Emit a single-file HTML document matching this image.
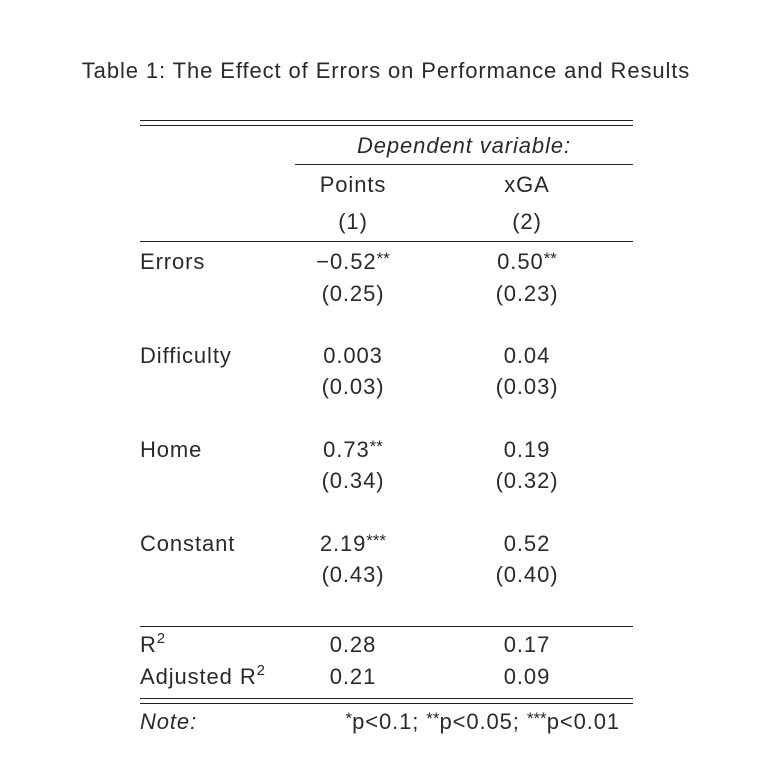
<!DOCTYPE html>
<html><head><meta charset="utf-8"><style>
body{margin:0;background:#fff;}
#t{position:relative;width:770px;height:781px;font-family:"Liberation Sans",sans-serif;font-size:22px;color:#2a2a2a;letter-spacing:0.9px;}
.x{position:absolute;line-height:26px;white-space:nowrap;}
.c{transform:translateX(-50%);}
.r{position:absolute;height:1px;background:#222;}
sup{font-size:17px;vertical-align:5px;line-height:0;letter-spacing:0;}
sup.s{font-size:15px;vertical-align:9px;}
</style></head><body>
<div id="t">
<div class="x c" style="left:386px;top:58px">Table 1: The Effect of Errors on Performance and Results</div>
<div class="r" style="left:140px;width:493px;top:120px"></div>
<div class="r" style="left:140px;width:493px;top:125px"></div>
<div class="x c" style="left:464px;top:133px;font-style:italic">Dependent variable:</div>
<div class="r" style="left:295px;width:338px;top:164px"></div>
<div class="x c" style="left:353px;top:172px">Points</div>
<div class="x c" style="left:527px;top:172px">xGA</div>
<div class="x c" style="left:353px;top:209px">(1)</div>
<div class="x c" style="left:527px;top:209px">(2)</div>
<div class="r" style="left:140px;width:493px;top:241px"></div>

<div class="x" style="left:140px;top:249px">Errors</div>
<div class="x c" style="left:353px;top:249px">−0.52<sup>**</sup></div>
<div class="x c" style="left:527px;top:249px">0.50<sup>**</sup></div>
<div class="x c" style="left:353px;top:281px">(0.25)</div>
<div class="x c" style="left:527px;top:281px">(0.23)</div>

<div class="x" style="left:140px;top:343px">Difficulty</div>
<div class="x c" style="left:353px;top:343px">0.003</div>
<div class="x c" style="left:527px;top:343px">0.04</div>
<div class="x c" style="left:353px;top:374px">(0.03)</div>
<div class="x c" style="left:527px;top:374px">(0.03)</div>

<div class="x" style="left:140px;top:437px">Home</div>
<div class="x c" style="left:353px;top:437px">0.73<sup>**</sup></div>
<div class="x c" style="left:527px;top:437px">0.19</div>
<div class="x c" style="left:353px;top:468px">(0.34)</div>
<div class="x c" style="left:527px;top:468px">(0.32)</div>

<div class="x" style="left:140px;top:531px">Constant</div>
<div class="x c" style="left:353px;top:531px">2.19<sup>***</sup></div>
<div class="x c" style="left:527px;top:531px">0.52</div>
<div class="x c" style="left:353px;top:562px">(0.43)</div>
<div class="x c" style="left:527px;top:562px">(0.40)</div>

<div class="r" style="left:140px;width:493px;top:626px"></div>
<div class="x" style="left:140px;top:632px">R<sup class="s">2</sup></div>
<div class="x c" style="left:353px;top:632px">0.28</div>
<div class="x c" style="left:527px;top:632px">0.17</div>
<div class="x" style="left:140px;top:664px">Adjusted R<sup class="s">2</sup></div>
<div class="x c" style="left:353px;top:664px">0.21</div>
<div class="x c" style="left:527px;top:664px">0.09</div>
<div class="r" style="left:140px;width:493px;top:698px"></div>
<div class="r" style="left:140px;width:493px;top:703px"></div>
<div class="x" style="left:140px;top:709px;font-style:italic">Note:</div>
<div class="x" style="right:150px;top:709px"><sup>*</sup>p&lt;0.1; <sup>**</sup>p&lt;0.05; <sup>***</sup>p&lt;0.01</div>
</div>
</body></html>
